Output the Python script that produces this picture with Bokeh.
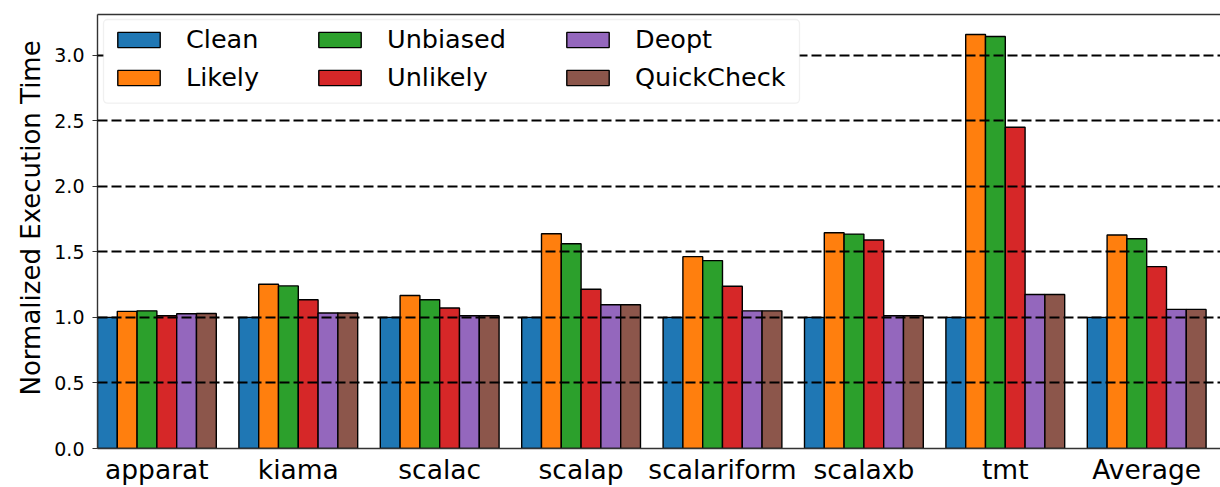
import numpy as np
from bokeh.plotting import figure
from bokeh.models import (Range1d, FixedTicker, Legend, LegendItem, BoxAnnotation,
                          LinearAxis, NumeralTickFormatter, Title)
from bokeh.embed import file_html
from bokeh.resources import INLINE

# ---------------- data ----------------
benchmarks = ["apparat", "kiama", "scalac", "scalap", "scalariform", "scalaxb", "tmt", "Average"]
series_names = ["Clean", "Likely", "Unbiased", "Unlikely", "Deopt", "QuickCheck"]
series_colors = ["#1f77b4", "#ff7f0e", "#2ca02c", "#d62728", "#9467bd", "#8c564b"]

clean = [1.0, 1.0, 1.0, 1.0, 1.0, 1.0, 1.0, 1.0]
likely = [1.046, 1.253, 1.167, 1.638, 1.463, 1.646, 3.157, 1.628]
unbiased = [1.05, 1.24, 1.134, 1.562, 1.433, 1.635, 3.142, 1.60]
unlikely = [1.012, 1.134, 1.071, 1.215, 1.238, 1.59, 2.45, 1.387]
deopt = [1.028, 1.033, 1.012, 1.096, 1.05, 1.012, 1.175, 1.061]
quickcheck = [1.03, 1.033, 1.012, 1.096, 1.05, 1.012, 1.175, 1.061]
series_values = [clean, likely, unbiased, unlikely, deopt, quickcheck]

y_ticks = [0.0, 0.5, 1.0, 1.5, 2.0, 2.5, 3.0]
y_title = "Normalized Execution Time"

# ---------------- layout ----------------
W, HF = 1220, 487
ML, MT, MB = 97, 14, 37
BW = 0.14
X0 = -0.42
PX_PER_UNIT = 141.4
X1 = X0 + (W - ML) / PX_PER_UNIT
Y0, Y1 = 0.0, 3.31
FONT = "DejaVu Sans"
AX = "#333333"

frame_w = W - ML
frame_h = HF - MT - MB
sx = frame_w / (X1 - X0)
sy = frame_h / (Y1 - Y0)

p = figure(width=W, height=HF, x_range=Range1d(X0, X1), y_range=Range1d(Y0, Y1),
           output_backend="svg", toolbar_location=None,
           min_border_left=ML, min_border_right=0, min_border_top=MT, min_border_bottom=MB,
           outline_line_color=None, background_fill_color="white", border_fill_color="white")

idx = np.arange(len(benchmarks))
renderers = []
for j, (name, vals, col) in enumerate(zip(series_names, series_values, series_colors)):
    r = p.vbar(x=idx + (j - 2.5) * BW, top=vals, width=BW, bottom=0,
               fill_color=col, line_color="black", line_width=1.4)
    renderers.append(r)

# grid
p.xgrid.visible = False
p.ygrid.ticker = FixedTicker(ticks=y_ticks)
p.ygrid.grid_line_color = "black"
p.ygrid.grid_line_dash = "10 4"
p.ygrid.grid_line_width = 2.2
p.ygrid.level = "guide"

# y axis
ya = p.yaxis[0]
ya.ticker = FixedTicker(ticks=y_ticks)
ya.formatter = NumeralTickFormatter(format="0.0")
ya.major_label_text_font = FONT
ya.major_label_text_font_size = "19px"
ya.major_label_text_color = "black"
ya.major_label_standoff = 8
ya.major_tick_out = 5
ya.major_tick_in = 0
ya.minor_tick_out = 0
ya.minor_tick_in = 0
ya.axis_line_color = AX
ya.axis_line_width = 1.4
ya.major_tick_line_color = AX
ya.major_tick_line_width = 1.2

# y axis title, starting 53 px above the frame bottom like the original
p.add_layout(Title(text=y_title, align="left", offset=53, standoff=12,
                   text_font=FONT, text_font_size="26px", text_font_style="normal",
                   text_color="black"), "left")

# x axis
xa = p.xaxis[0]
xa.ticker = FixedTicker(ticks=list(idx))
xa.major_label_overrides = {int(i): b for i, b in zip(idx, benchmarks)}
xa.major_label_text_font = FONT
xa.major_label_text_font_size = "26.5px"
xa.major_label_text_color = "black"
xa.major_label_standoff = 5
xa.major_tick_out = 0
xa.major_tick_in = 0
xa.minor_tick_out = 0
xa.minor_tick_in = 0
xa.axis_line_color = AX
xa.axis_line_width = 1.4

# top spine
top_axis = LinearAxis(ticker=FixedTicker(ticks=[]), major_tick_out=0, major_tick_in=0,
                      minor_tick_out=0, minor_tick_in=0, major_label_standoff=0,
                      major_label_text_font_size="0px", axis_line_color=AX, axis_line_width=1.6)
p.add_layout(top_axis, "above")

# legend box
box = BoxAnnotation(left=X0 + 6 / sx, right=X0 + 702 / sx,
                    top=Y1 - 5 / sy, bottom=Y1 - 89 / sy,
                    fill_color="white", fill_alpha=1.0,
                    line_color="#cccccc", line_width=1.3, border_radius=4)
p.add_layout(box)

# legends (one per column)
item_h, spacing = 30, 8
leg_h = 2 * item_h + spacing
leg_top = 12
col_x = [15, 216, 464]
for c in range(3):
    items = [LegendItem(label=series_names[2 * c + k], renderers=[renderers[2 * c + k]]) for k in range(2)]
    lg = Legend(items=items, location=(col_x[c], frame_h - leg_top - leg_h),
                orientation="vertical", padding=0, margin=0, spacing=spacing,
                glyph_width=53, glyph_height=19, label_standoff=21, label_height=item_h,
                label_text_font=FONT, label_text_font_size="25.5px", label_text_color="black",
                border_line_color=None, background_fill_alpha=0.0)
    p.add_layout(lg)

open("out.html", "w").write(file_html(p, INLINE))
